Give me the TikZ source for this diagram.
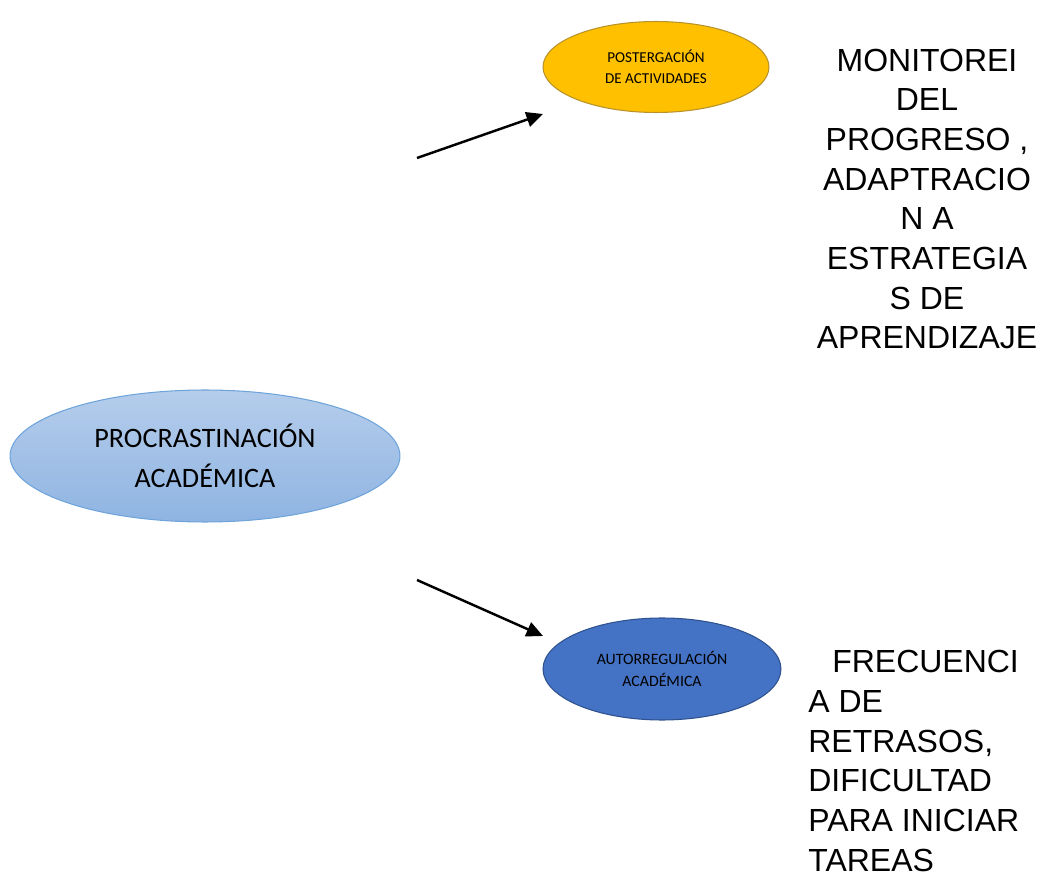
\documentclass[tikz,border=0pt]{standalone}
\usepackage{fontspec}
\setmainfont{Liberation Sans}
\newfontfamily\calibri{Carlito}
\usetikzlibrary{arrows.meta, shapes.geometric}
\definecolor{procTop}{HTML}{B5CDEB}
\definecolor{procBot}{HTML}{8FB4E2}
\definecolor{procLine}{HTML}{6FA4DA}
\definecolor{postFill}{HTML}{FFC000}
\definecolor{postLine}{HTML}{B8922A}
\definecolor{autoFill}{HTML}{4472C4}
\definecolor{autoLine}{HTML}{2F528F}

\begin{document}
\begin{tikzpicture}[
  x=0.02cm, y=-0.02cm,
  oval/.style={ellipse, draw, inner sep=0pt, line width=0.6pt, align=center},
  arr/.style={-{Triangle[length=0.33cm, width=0.3cm]}, line width=1.4pt},
  note/.style={inner sep=0pt, font=\fontsize{18.2}{22.6}\selectfont}
]
  \useasboundingbox (0,0) rectangle (1039,878);

  % Ellipses
  \node[oval, draw=procLine, top color=procTop, bottom color=procBot,
        minimum width=7.8cm, minimum height=2.64cm,
        font=\calibri\fontsize{16}{22.8}\selectfont] (proc) at (205,456)
        {PROCRASTINACIÓN\\ACADÉMICA};
  \node[oval, draw=postLine, fill=postFill,
        minimum width=4.52cm, minimum height=1.82cm,
        font=\calibri\fontsize{8.6}{11.7}\selectfont] (post) at (656,67)
        {POSTERGACIÓN\\DE ACTIVIDADES};
  \node[oval, draw=autoLine, fill=autoFill,
        minimum width=4.76cm, minimum height=2.04cm,
        font=\calibri\fontsize{9}{12.5}\selectfont] (auto) at (662,669)
        {AUTORREGULACIÓN\\ACADÉMICA};

  % Side texts
  \node[note, align=center] (mon) at (927,199)
        {MONITOREI\\DEL\\PROGRESO ,\\ADAPTRACIO\\N A\\ESTRATEGIA\\S DE\\APRENDIZAJE};
  \node[note, align=left, anchor=west] (frec) at (808,761)
        {\hspace*{0.75em}FRECUENCI\\A DE\\RETRASOS,\\DIFICULTAD\\PARA INICIAR\\TAREAS};

  % Arrows
  \coordinate (up0) at (417,158);
  \coordinate (up1) at (543,114);
  \coordinate (dn0) at (417,580);
  \coordinate (dn1) at (543,636);
  \draw[arr] (up0) -- (up1);
  \draw[arr] (dn0) -- (dn1);
\end{tikzpicture}
\end{document}
